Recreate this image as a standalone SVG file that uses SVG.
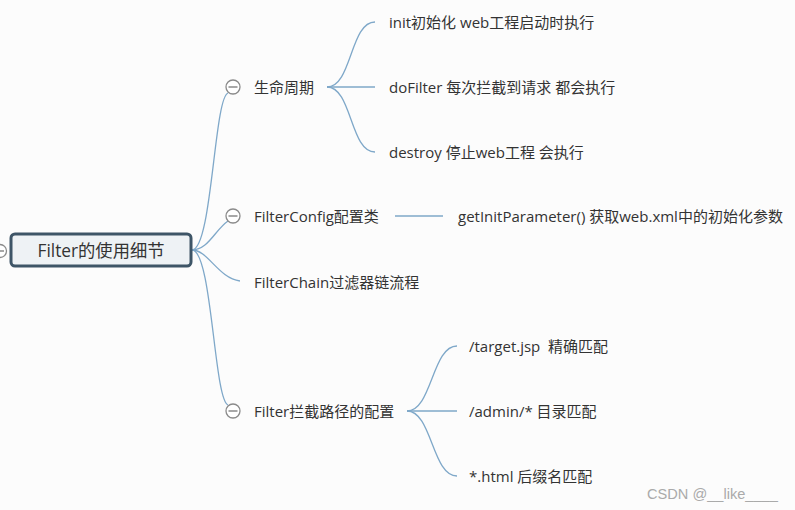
<svg xmlns="http://www.w3.org/2000/svg" width="795" height="510" viewBox="0 0 795 510">
<style>
.t{font-family:"Open Sans","Noto Sans CJK SC",sans-serif;font-size:15px;fill:#333;dominant-baseline:central;white-space:pre}
.ln{fill:none;stroke:#7fa8c9;stroke-width:1.3}
.cc{fill:#fff;stroke:#8a8a8a;stroke-width:1.3}
.mn{stroke:#777;stroke-width:1.3}
</style>
<rect width="795" height="510" fill="#fcfcfc"/>
<g id="connectors">
<path class="ln" d="M192,250 C212,250 214,98 228,93"/>
<path class="ln" d="M192,250 C208,250 215,230 228,221"/>
<path class="ln" d="M192,250 C208,250 218,278 240,281"/>
<path class="ln" d="M192,250 C212,250 214,400 228,405"/>
<path class="ln" d="M327,87 C352,87 350,22 375,22"/>
<path class="ln" d="M327,87 L375,87"/>
<path class="ln" d="M327,87 C352,87 350,152 375,152"/>
<path class="ln" d="M395,216 L443,216"/>
<path class="ln" d="M407,411 C432,411 432,346 457,346"/>
<path class="ln" d="M407,411 L457,411"/>
<path class="ln" d="M407,411 C432,411 432,476 457,476"/>
</g>
<g id="leftcollapse"><circle class="cc" cx="0" cy="251" r="6.5"/><line class="mn" x1="-4" y1="251" x2="4" y2="251"/></g>
<g id="root">
<rect x="11" y="234" width="180" height="32" rx="4" fill="#eef2f5" stroke="#3e5567" stroke-width="3"/>
<text class="t" x="101" y="250" text-anchor="middle" style="font-size:17.3px">Filter的使用细节</text>
</g>
<g id="n1"><circle class="cc" cx="233" cy="87" r="7"/><line class="mn" x1="228.5" y1="87" x2="237.5" y2="87"/><text class="t" x="254" y="87">生命周期</text></g>
<g id="n1a"><text class="t" x="389" y="22">init初始化 web工程启动时执行</text></g>
<g id="n1b"><text class="t" x="389" y="87">doFilter 每次拦截到请求 都会执行</text></g>
<g id="n1c"><text class="t" x="389" y="152">destroy 停止web工程 会执行</text></g>
<g id="n2"><circle class="cc" cx="233" cy="216" r="7"/><line class="mn" x1="228.5" y1="216" x2="237.5" y2="216"/><text class="t" x="254" y="216">FilterConfig配置类</text></g>
<g id="n2a"><text class="t" x="458" y="216">getInitParameter() 获取web.xml中的初始化参数</text></g>
<g id="n3"><text class="t" x="254" y="282">FilterChain过滤器链流程</text></g>
<g id="n4"><circle class="cc" cx="233" cy="411" r="7"/><line class="mn" x1="228.5" y1="411" x2="237.5" y2="411"/><text class="t" x="254" y="411">Filter拦截路径的配置</text></g>
<g id="n4a"><text class="t" x="469" y="346">/target.jsp  精确匹配</text></g>
<g id="n4b"><text class="t" x="469" y="411">/admin/* 目录匹配</text></g>
<g id="n4c"><text class="t" x="469" y="476">*.html 后缀名匹配</text></g>
<text x="647" y="494" font-family="'Liberation Sans',sans-serif" font-size="14.6" fill="#aaa" dominant-baseline="central">CSDN @__like____</text>
</svg>
